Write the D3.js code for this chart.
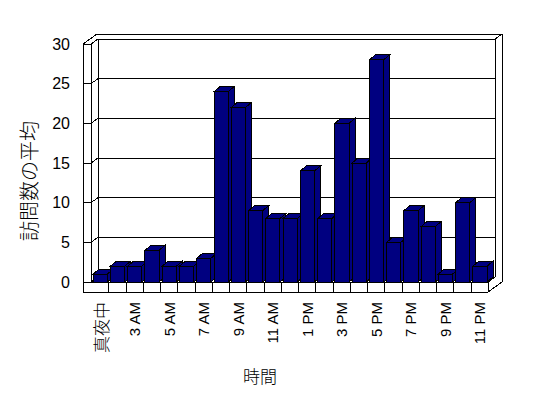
<!DOCTYPE html>
<html>
<head>
<meta charset="utf-8">
<script src="https://cdn.jsdelivr.net/npm/d3@7"></script>
<style>
  html, body { margin: 0; padding: 0; background: #fff; }
  svg { display: block; }
  text { font-family: "Liberation Sans", Arial, sans-serif; fill: #000; }
  .cjk { font-family: "Noto Sans CJK JP", "Noto Sans CJK SC", sans-serif; font-weight: 300; }
</style>
</head>
<body>
<script>
// ---- data ----
const categories = ["真夜中","2 AM","3 AM","4 AM","5 AM","6 AM","7 AM","8 AM","9 AM","10 AM","11 AM","12 PM",
  "1 PM","2 PM","3 PM","4 PM","5 PM","6 PM","7 PM","8 PM","9 PM","10 PM","11 PM"];
const visits = [1,2,2,4,2,2,3,24,22,9,8,8,14,8,20,15,28,5,9,7,1,10,2];
const yTicks = [0,5,10,15,20,25,30];
const xTitle = "時間";
const yTitle = "訪問数の平均";

// ---- layout ----
const W = 548, H = 398;
const sideL = 83;           // outer left of side wall
const plotL = 91, plotR = 488; // category span (front)
const wallD = [7, -5];      // depth offset to back wall inner face
const wallT = [14, -10];    // depth offset to back wall outer face
const barD = [6, -5];       // bar depth offset
const floorB = 292;         // bottom of floor slab

const svg = d3.select("body").append("svg").attr("width", W).attr("height", H);

const x = d3.scaleBand().domain(categories).range([plotL, plotR]).padding(0);
const y = d3.scaleLinear().domain([0, 30]).range([282, 44]);
const y0 = y(0), yTop = y(30);

const g = svg.append("g").attr("fill", "none").attr("stroke", "#000").attr("stroke-width", 1)
  .attr("shape-rendering", "crispEdges");

// outer silhouette of walls + floor
const outline = [
  [sideL, yTop], [sideL + wallT[0], yTop + wallT[1]], [plotR + wallT[0], yTop + wallT[1]],
  [plotR + wallT[0], floorB + wallT[1]], [plotR, floorB], [sideL, floorB]
];
g.append("polygon").attr("points", outline.map(p => p.join(",")).join(" ")).attr("fill", "#fff");

// back wall inner face edges
const bl = plotL + wallD[0], br = plotR + wallD[0];
g.append("polyline").attr("points", [[bl, y0 + wallD[1]], [bl, yTop + wallD[1]], [br, yTop + wallD[1]], [br, y0 + wallD[1]]].map(p => p.join(",")).join(" "));
// back wall top bevel corner
g.append("line").attr("x1", br).attr("y1", yTop + wallD[1]).attr("x2", plotR + wallT[0]).attr("y2", yTop + wallT[1]);
// side wall front face inner edge
g.append("line").attr("x1", plotL).attr("y1", yTop).attr("x2", plotL).attr("y2", y0);
g.append("line").attr("x1", plotL).attr("y1", yTop).attr("x2", bl).attr("y2", yTop + wallD[1]);
// floor top edges
g.append("line").attr("x1", plotL).attr("y1", y0).attr("x2", bl).attr("y2", y0 + wallD[1]);
g.append("line").attr("x1", plotR).attr("y1", y0).attr("x2", br).attr("y2", y0 + wallD[1]);
g.append("line").attr("x1", bl).attr("y1", y0 + wallD[1]).attr("x2", br).attr("y2", y0 + wallD[1]);

// gridlines (side wall front, side wall depth, back wall)
yTicks.forEach(v => {
  const yy = y(v);
  g.append("polyline").attr("points",
    [[sideL, yy], [plotL, yy], [bl, yy + wallD[1]], [br, yy + wallD[1]]].map(p => p.join(",")).join(" "));
});

// bars
const bw = x.bandwidth();
const bars = svg.append("g").attr("stroke", "#000").attr("stroke-width", 1).attr("fill", "#000080")
  .attr("stroke-linejoin", "miter").attr("shape-rendering", "crispEdges");
categories.forEach((c, i) => {
  const x0 = x(c) + 2.2, x1 = x0 + bw * 0.82;
  const yt = y(visits[i]), yb = y0;
  const [dx, dy] = barD;
  bars.append("polygon").attr("points", [[x1, yt], [x1 + dx, yt + dy], [x1 + dx, yb + dy], [x1, yb]].map(p => p.join(",")).join(" "));
  bars.append("polygon").attr("points", [[x0, yt], [x0 + dx, yt + dy], [x1 + dx, yt + dy], [x1, yt]].map(p => p.join(",")).join(" "));
  bars.append("rect").attr("x", x0).attr("y", yt).attr("width", x1 - x0).attr("height", yb - yt);
});

// floor front face
const ff = svg.append("g").attr("stroke", "#000").attr("fill", "none").attr("shape-rendering", "crispEdges");
ff.append("line").attr("x1", sideL).attr("y1", y0).attr("x2", plotR).attr("y2", y0);
ff.append("line").attr("x1", sideL).attr("y1", floorB).attr("x2", plotR).attr("y2", floorB);
ff.append("line").attr("x1", plotR).attr("y1", y0).attr("x2", plotR).attr("y2", floorB);
categories.forEach((c, i) => {
  if (i === 0) return;
  const xx = Math.round(x(c));
  ff.append("line").attr("x1", xx).attr("y1", y0).attr("x2", xx).attr("y2", floorB);
});

// y tick labels
svg.append("g").selectAll("text").data(yTicks).join("text")
  .attr("x", 70).attr("y", d => y(d)).attr("text-anchor", "end").attr("dominant-baseline", "central")
  .attr("font-size", 16).text(d => d);

// x tick labels (every other category)
svg.append("g").selectAll("text").data(categories.filter((c, i) => i % 2 === 0)).join("text")
  .attr("class", d => /[^\x00-\x7F]/.test(d) ? "cjk" : null)
  .attr("font-size", d => /[^\x00-\x7F]/.test(d) ? 17 : 15)
  .attr("text-anchor", "end").attr("dominant-baseline", "central")
  .attr("transform", d => `translate(${x(d) + bw / 2 + 0.5},302) rotate(-90)`)
  .text(d => d);

// axis titles
svg.append("text").attr("class", "cjk").attr("x", 260).attr("y", 375).attr("text-anchor", "middle")
  .attr("dominant-baseline", "central").attr("font-size", 17).text(xTitle);
svg.append("text").attr("class", "cjk").attr("text-anchor", "middle").attr("dominant-baseline", "central")
  .attr("font-size", 20).attr("transform", "translate(28,181) rotate(-90)").text(yTitle);
</script>
</body>
</html>
